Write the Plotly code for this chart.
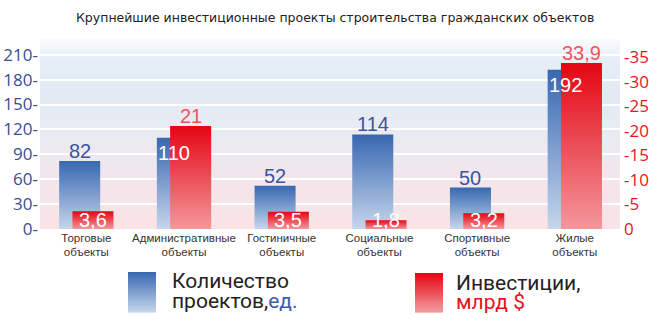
import plotly.graph_objects as go

# ---------------- data ----------------
categories = ["Торговые<br>объекты", "Административные<br>объекты", "Гостиничные<br>объекты",
              "Социальные<br>объекты", "Спортивные<br>объекты", "Жилые<br>объекты"]
projects = [82, 110, 52, 114, 50, 192]
invest = [3.6, 21, 3.5, 1.8, 3.2, 33.9]
invest_text = ["3,6", "21", "3,5", "1,8", "3,2", "33,9"]
left_ticks = [0, 30, 60, 90, 120, 150, 180, 210]
right_ticks = [0, 5, 10, 15, 20, 25, 30, 35]
title = "Крупнейшие инвестиционные проекты строительства гражданских объектов"

# ---------------- geometry / style ----------------
W, H = 657, 324
ML, MR, MT, MB = 40, 37, 40, 95
PW, PH = W - ML - MR, H - MT - MB
Y1MAX = PH / 0.83
Y2MAX = PH / 4.9
XMIN = -0.474
XMAX = XMIN + PW / 97.7
BW = 0.42
BLUE_OFF = -0.068
RED_OFF = 0.068

BLUE_TOP, BLUE_BOT = "#3767b0", "#c6d6ec"
RED_TOP, RED_BOT = "#e30613", "#f4979c"
BLUE_TXT = "#3b55a0"
RED_TXT = "#f0545c"


def px(xp):
    return (xp - ML) / PW


def py(yp):
    return (H - MB - yp) / PH


def hex2rgb(h):
    h = h.lstrip("#")
    return tuple(int(h[i:i + 2], 16) for i in (0, 2, 4))


def interp(stops, t):
    for (t0, c0), (t1, c1) in zip(stops, stops[1:]):
        if t0 <= t <= t1:
            f = (t - t0) / (t1 - t0) if t1 > t0 else 0
            a, b = hex2rgb(c0), hex2rgb(c1)
            return "rgb(%d,%d,%d)" % tuple(round(a[k] + (b[k] - a[k]) * f) for k in range(3))
    return stops[-1][1]


fig = go.Figure()
shapes = []

# background gradient bands
bg_stops = [(0.0, "#f9e3e6"), (0.25, "#f3e5ea"), (0.5, "#e9ebf2"), (0.75, "#e2eaf4"),
            (0.9, "#e7eef7"), (1.0, "#f8fafd")]
NB = 60
for k in range(NB):
    shapes.append(dict(type="rect", xref="paper", yref="paper", x0=0, x1=1,
                       y0=k / NB, y1=(k + 1) / NB + 0.004, layer="below",
                       line=dict(width=0), fillcolor=interp(bg_stops, (k + 0.5) / NB)))


def bar_trace(xc, val, yaxis, top, bot):
    x0, x1 = xc - BW / 2, xc + BW / 2
    return go.Scatter(x=[x0, x1, x1, x0, x0], y=[0, 0, val, val, 0], yaxis=yaxis,
                      mode="lines", fill="toself", line=dict(width=0),
                      fillgradient=dict(type="vertical", colorscale=[[0, bot], [1, top]]),
                      hoverinfo="skip", showlegend=False)


for i, v in enumerate(projects):
    fig.add_trace(bar_trace(i + BLUE_OFF, v, "y", BLUE_TOP, BLUE_BOT))
for i, v in enumerate(invest):
    fig.add_trace(bar_trace(i + RED_OFF, v, "y2", RED_TOP, RED_BOT))

LBL = "Liberation Sans"
annotations = []
for i, (p, v, t) in enumerate(zip(projects, invest, invest_text)):
    bx = i + BLUE_OFF
    rx = i + RED_OFF
    blue_px = p * 0.83
    red_px = v * 4.9
    if red_px > blue_px - 10:
        annotations.append(dict(x=bx - 0.03, y=p, xref="x", yref="y", text=str(p), showarrow=False,
                                yanchor="top", yshift=-2,
                                font=dict(size=20, color="white", family=LBL)))
    else:
        annotations.append(dict(x=bx, y=p, xref="x", yref="y", text=str(p), showarrow=False,
                                yanchor="bottom", yshift=-3,
                                font=dict(size=20, color=BLUE_TXT, family=LBL)))
    if red_px > 30:
        annotations.append(dict(x=rx, y=v, xref="x", yref="y2", text=t, showarrow=False,
                                yanchor="bottom", yshift=-3,
                                font=dict(size=20, color=RED_TXT, family=LBL)))
    else:
        annotations.append(dict(x=rx, y=0, xref="x", yref="y2", text=t, showarrow=False,
                                yanchor="middle", yshift=9,
                                font=dict(size=20, color="white", family=LBL)))

# title
annotations.append(dict(x=px(335), y=py(17), xref="paper", yref="paper", text=title,
                        showarrow=False, xanchor="center", yanchor="middle",
                        font=dict(size=12.5, color="#222222", family="DejaVu Sans")))


# custom legend
def legend_box(x0, x1, y0, y1, top, bot, n=40):
    for k in range(n):
        ya = y0 + (y1 - y0) * k / n
        yb = y0 + (y1 - y0) * (k + 1) / n
        shapes.append(dict(type="rect", xref="paper", yref="paper",
                           x0=px(x0), x1=px(x1), y0=py(yb + 0.6), y1=py(ya),
                           line=dict(width=0),
                           fillcolor=interp([(0, top), (1, bot)], (k + 0.5) / n)))


legend_box(128, 156, 272, 312, BLUE_TOP, BLUE_BOT)
legend_box(415, 443, 273, 312, RED_TOP, RED_BOT)
LF = dict(size=21, color="#222222", family="Roboto")
annotations += [
    dict(x=px(170), y=py(281), xref="paper", yref="paper", text="Количество", showarrow=False,
         xanchor="left", yanchor="middle", font=LF),
    dict(x=px(170), y=py(301), xref="paper", yref="paper",
         text="проектов,<span style='color:#3a5cab'>ед.</span>", showarrow=False,
         xanchor="left", yanchor="middle", font=LF),
    dict(x=px(454), y=py(283), xref="paper", yref="paper", text="Инвестиции,", showarrow=False,
         xanchor="left", yanchor="middle", font=LF),
    dict(x=px(454), y=py(302), xref="paper", yref="paper",
         text="<span style='color:#e8101a'>млрд $</span>", showarrow=False,
         xanchor="left", yanchor="middle", font=LF),
]

fig.update_layout(
    width=W, height=H, margin=dict(l=ML, r=MR, t=MT, b=MB, autoexpand=False),
    paper_bgcolor="white", plot_bgcolor="rgba(0,0,0,0)",
    showlegend=False, shapes=shapes, annotations=annotations,
    xaxis=dict(range=[XMIN, XMAX], tickvals=list(range(len(categories))), ticktext=categories,
               showgrid=False, zeroline=False, showline=False, ticks="", automargin=False,
               tickfont=dict(size=11.5, color="#333333", family="Liberation Sans")),
    yaxis=dict(range=[0, Y1MAX], tickvals=left_ticks, ticktext=[f"{t}-" for t in left_ticks],
               showgrid=True, gridcolor="white", gridwidth=2, zeroline=False, showline=False,
               ticks="", ticklabelstandoff=1, automargin=False,
               tickfont=dict(size=17, color="#3b4d8f", family="Open Sans")),
    yaxis2=dict(range=[0, Y2MAX], overlaying="y", side="right", tickvals=right_ticks,
                ticktext=[("-" + str(t)) if t else "0" for t in right_ticks],
                showgrid=False, zeroline=False, showline=False, ticks="", ticklabelstandoff=3,
                automargin=False,
                tickfont=dict(size=17, color="#e8141c", family="Open Sans")),
)

fig.write_html("out.html")
